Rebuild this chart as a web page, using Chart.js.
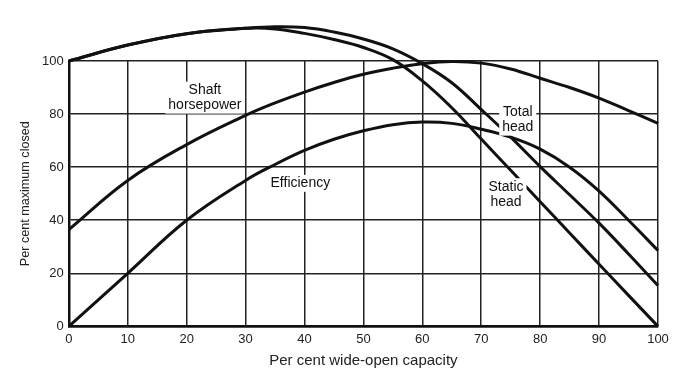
<!DOCTYPE html>
<html>
<head>
<meta charset="utf-8">
<script src="https://cdn.jsdelivr.net/npm/chart.js@4.4.0/dist/chart.umd.min.js"></script>
<style>
  body { margin: 0; background: #fff; }
</style>
</head>
<body>
<canvas id="pumpChart" width="698" height="375"></canvas>
<script>
// per cent wide-open capacity
const capacity = [0, 10, 20, 30, 35, 40, 45, 50, 55, 60, 65, 70, 75, 80, 85, 90, 95, 100];

// per cent of maximum (closed) values
const efficiency = [0, 20, 40, 55, 61, 66.3, 70.5, 73.7, 76, 77, 76.5, 74.3, 71.3, 66.8, 60, 51, 40, 28.6];
const shaftHp = [36.5, 55, 68.5, 79.5, 84.2, 88.3, 91.9, 95, 97.3, 99, 99.8, 99.2, 97, 93.5, 90, 86, 81.3, 76.5];
const totalHead = [100, 106, 110.3, 112.3, 112.9, 112.6, 110.9, 108.3, 104.6, 99, 91.8, 81.7, 71.3, 60.2, 49.6, 38.9, 27.3, 15.4];
const staticHead = [100, 106, 110.3, 112.3, 112.1, 110.4, 108.1, 105.1, 100.5, 92.5, 82.4, 70.6, 58.8, 47, 35.2, 23.4, 11.7, 0];

// curve names written on the plot
const curveLabels = [
    { lines: ['Shaft', 'horsepower'], x: 23.1, y: 86.2 },
    { lines: ['Efficiency'], x: 39.3, y: 53.9 },
    { lines: ['Total', 'head'], x: 76.2, y: 77.9 },
    { lines: ['Static', 'head'], x: 74.2, y: 49.8 },
];

const toPoints = function (values) {
    return values.map((v, i) => ({ x: capacity[i], y: v }));
};

const fontFamily = "'Liberation Sans', Arial, sans-serif";

const curveLabelPlugin = {
    id: 'curveLabels',
    afterDatasetsDraw(chart) {
        const ctx = chart.ctx;
        const xs = chart.scales.x;
        const ys = chart.scales.y;
        ctx.save();
        ctx.font = '14px ' + fontFamily;
        ctx.textAlign = 'center';
        ctx.textBaseline = 'middle';
        curveLabels.forEach(lab => {
            const cx = xs.getPixelForValue(lab.x);
            const cy = ys.getPixelForValue(lab.y);
            const lh = 15;
            const w = Math.max(...lab.lines.map(t => ctx.measureText(t).width)) + 6;
            const h = lab.lines.length * lh + 2;
            ctx.fillStyle = '#fff';
            ctx.fillRect(cx - w / 2, cy - h / 2, w, h);
            ctx.fillStyle = '#111';
            lab.lines.forEach((t, i) => {
                ctx.fillText(t, cx, cy - (lab.lines.length - 1) * lh / 2 + i * lh);
            });
        });
        ctx.restore();
    }
};

const lineStyle = {
    borderColor: '#111',
    borderWidth: 3,
    pointRadius: 0,
    fill: false,
    tension: 0.4,
    clip: false,
};

new Chart(document.getElementById('pumpChart'), {
    type: 'line',
    data: {
        datasets: [
            { label: 'Efficiency', data: toPoints(efficiency), ...lineStyle },
            { label: 'Shaft horsepower', data: toPoints(shaftHp), ...lineStyle },
            { label: 'Total head', data: toPoints(totalHead), ...lineStyle },
            { label: 'Static head', data: toPoints(staticHead), ...lineStyle },
        ],
    },
    options: {
        responsive: false,
        animation: false,
        layout: {
            padding: { top: 61, right: 40, left: 18, bottom: 5 }
        },
        plugins: {
            legend: { display: false },
            tooltip: { enabled: false },
        },
        scales: {
            x: {
                type: 'linear',
                min: 0,
                max: 100,
                ticks: {
                    stepSize: 10,
                    color: '#222',
                    padding: 5,
                    font: { family: fontFamily, size: 13 },
                },
                grid: { color: '#222', lineWidth: 1.5, drawTicks: false },
                border: { color: '#111', width: 2.5 },
                title: {
                    display: true,
                    text: 'Per cent wide-open capacity',
                    color: '#222',
                    font: { family: fontFamily, size: 15 },
                    padding: { top: 0, bottom: 0 },
                },
            },
            y: {
                min: 0,
                max: 100,
                ticks: {
                    stepSize: 20,
                    color: '#222',
                    padding: 5,
                    font: { family: fontFamily, size: 13 },
                },
                grid: { color: '#222', lineWidth: 1.5, drawTicks: false },
                border: { color: '#111', width: 2.5 },
                title: {
                    display: true,
                    text: 'Per cent maximum closed',
                    color: '#222',
                    font: { family: fontFamily, size: 12.6 },
                    padding: { top: 0, bottom: 4 },
                },
            },
        },
    },
    plugins: [curveLabelPlugin],
});
</script>
</body>
</html>
